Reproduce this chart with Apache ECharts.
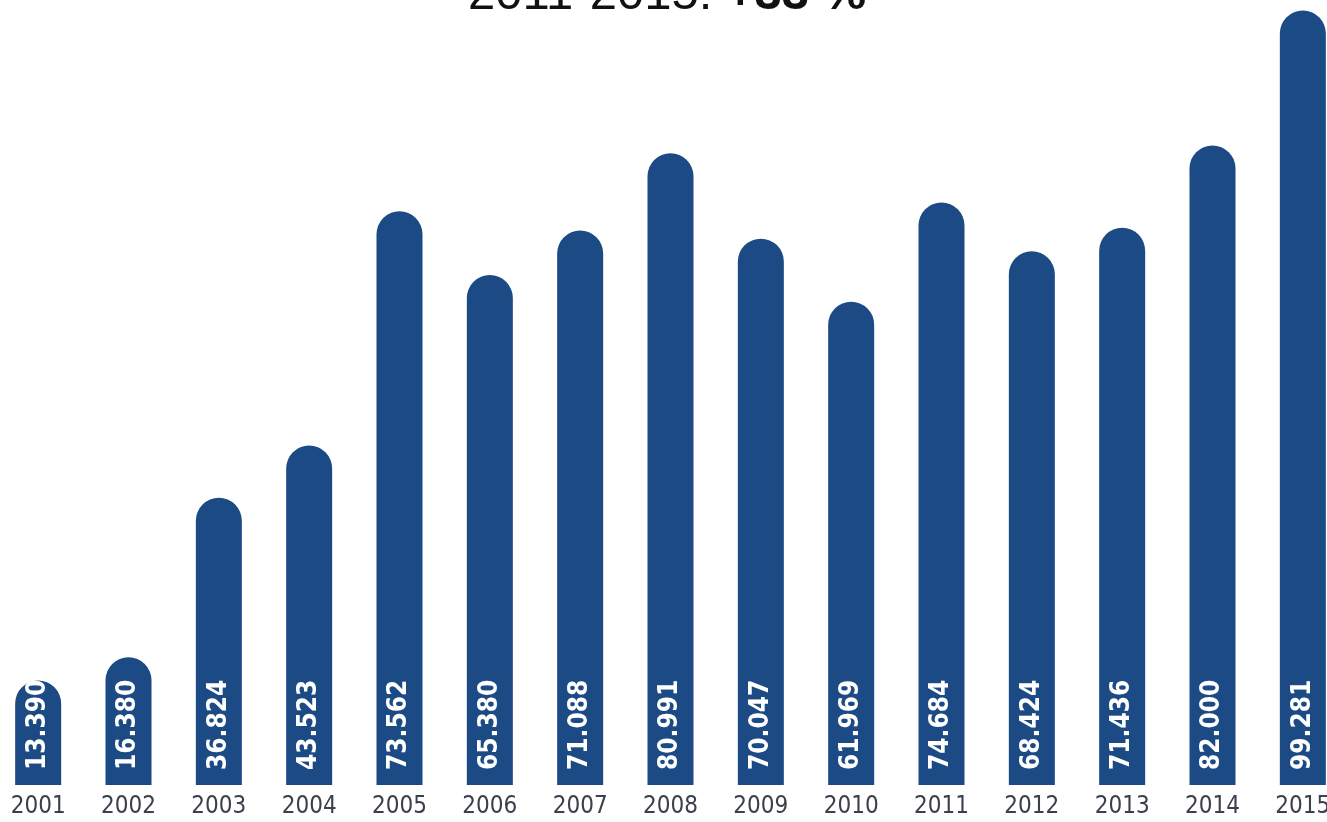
<!DOCTYPE html>
<html>
<head>
<meta charset="utf-8">
<script src="https://cdn.jsdelivr.net/npm/echarts@6/dist/echarts.min.js"></script>
<style>
  html, body { margin: 0; padding: 0; background: #fff; overflow: hidden; }
  #chart { width: 1355px; height: 822px; margin-left: -7px; }
</style>
</head>
<body>
<div id="chart"></div>
<script>
const years = ['2001', '2002', '2003', '2004', '2005', '2006', '2007', '2008',
  '2009', '2010', '2011', '2012', '2013', '2014', '2015'];
const values = [13.390, 16.380, 36.824, 43.523, 73.562, 65.380, 71.088, 80.991,
  70.047, 61.969, 74.684, 68.424, 71.436, 82.000, 99.281];
const growthLabel = '2011-2015: ';
const growthValue = '+33 %';

const chart = echarts.init(document.getElementById('chart'));
const condensed = '"DejaVu Sans Condensed", "DejaVu Sans", sans-serif';
const sans = '"Liberation Sans", Arial, sans-serif';

chart.setOption({
  animation: false,
  title: {
    text: '{a|' + growthLabel + '}{b|' + growthValue + '}',
    left: 470,
    top: -34,
    textStyle: {
      rich: {
        a: { fontFamily: sans, fontSize: 49, fontWeight: 'normal', color: '#111' },
        b: { fontFamily: sans, fontSize: 49, fontWeight: 'bold', color: '#111' }
      }
    }
  },
  grid: { left: 0, right: 0, top: 5, bottom: 37 },
  xAxis: {
    type: 'category',
    data: years,
    axisLine: { show: false },
    axisTick: { show: false },
    axisLabel: {
      margin: 10,
      fontFamily: condensed,
      fontSize: 24,
      color: '#3c404a'
    }
  },
  yAxis: {
    type: 'value',
    min: 0,
    max: 100,
    show: false,
    splitLine: { show: false }
  },
  series: [{
    type: 'bar',
    data: values,
    barWidth: 46,
    itemStyle: { color: '#1b4a84', borderRadius: [23, 23, 0, 0] },
    label: {
      show: true,
      position: 'insideBottom',
      rotate: 90,
      align: 'left',
      verticalAlign: 'middle',
      distance: 15,
      formatter: p => p.value.toFixed(3),
      fontFamily: condensed,
      fontWeight: 'bold',
      fontSize: 26,
      color: '#fff'
    }
  }]
});
</script>
</body>
</html>
